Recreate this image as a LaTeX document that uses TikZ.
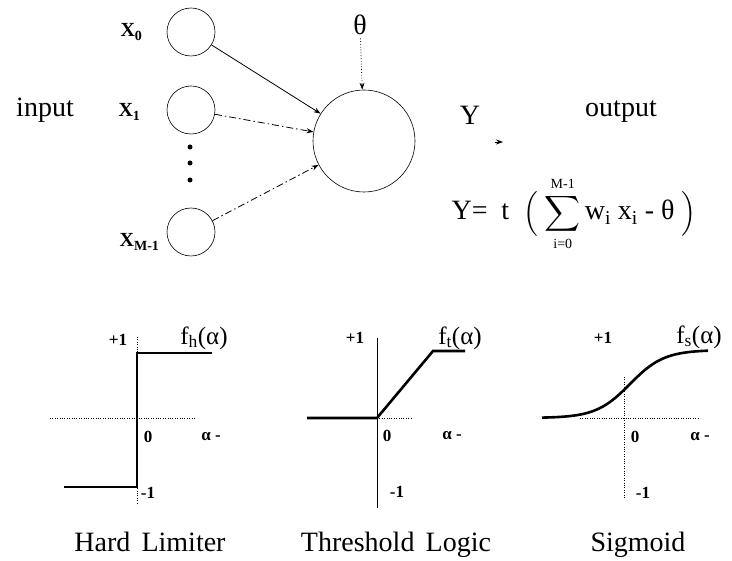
\documentclass[tikz,border=0pt]{standalone}
\usepackage{amsmath}
\usepackage{fontspec}
\setmainfont{Liberation Serif}
\usetikzlibrary{arrows.meta,
                positioning}

\begin{document}
\begin{tikzpicture}[
        x=1pt, y=-1pt,
        unit/.style={circle, minimum size=48pt, inner sep=0pt, draw=black, semithick},
        neuron/.style={circle, minimum size=102pt, inner sep=0pt, draw=black, semithick},
        bigtext/.style={font=\fontsize{28}{30}\selectfont},
        inlabel/.style={font=\fontsize{20}{22}\selectfont\bfseries, anchor=east},
        tick/.style={font=\fontsize{17}{18}\selectfont\bfseries},
        fname/.style={font=\fontsize{25}{27}\selectfont},
        curve/.style={line width=2.6pt},
        axis/.style={dotted, thin},
        wire/.style={-{Stealth[length=7pt,width=5pt]}, thick},
        dashwire/.style={wire, dash pattern=on 7pt off 3pt on 1.5pt off 3pt}
        ]
    \useasboundingbox (0,0) rectangle (732,561);

    \node (x0)  [unit]   at (191,32)  {};
    \node (x1)  [unit]   at (191,110) {};
    \node (xm)  [unit]   at (191,232) {};
    \node (n)   [neuron] at (364,141) {};

    \node (lx0) [inlabel] at (146,32)  {X\textsubscript{0}};
    \node (lx1) [inlabel] at (144,112) {X\textsubscript{1}};
    \node (lxm) [inlabel] at (163,242) {X\textsubscript{M-1}};
    \foreach \y [count=\i] in {147,163,180}
        \node (dot\i) [circle, fill, inner sep=0pt, minimum size=5pt] at (190,\y) {};

    \node (in)    [bigtext] at (45,110)  {input};
    \node (theta) [bigtext] at (360,25)  {θ};
    \node (y)     [bigtext] at (470,115) {Y};
    \node (out)   [bigtext] at (621,112) {output};
    \coordinate (ytail) at (495,142);
    \coordinate (ytip)  at (503,142);

    \draw [wire]         (x0)    -- (n);
    \draw [dashwire]     (x1)    -- (n);
    \draw [dashwire]     (xm)    -- (n);
    \draw [wire, dotted] (theta) -- (n);
    \draw [wire]         (ytail) -- (ytip);

    \node (f) [bigtext] at (574,214)
        {$\text{Y=}\;\;\text{t}\;\;\Bigl(\;\displaystyle\sum\limits_{\scriptscriptstyle\text{i=0}}^{\scriptscriptstyle\text{M-1}}\text{w}_{\text{i}}\;\text{x}_{\text{i}}\text{ - θ}\;\Bigr)$};

    \draw [axis]  (50,418) -- (195,418);
    \draw [axis]  (137,337) -- (137,505);
    \draw [curve] (64,487) -- (137,487) -- (137,353) -- (212,353);
    \node (hp1) [tick]  at (118,340) {+1};
    \node (hf)  [fname] at (204,338) {f\textsubscript{h}(α)};
    \node (h0)  [tick]  at (148,437) {0};
    \node (ha)  [tick]  at (211,437) {α -};
    \node (hm1) [tick]  at (148,493) {-1};
    \node (hl)  [bigtext] at (150,542) {Hard\hspace{0.4em}Limiter};

    \draw [thick] (377,338) -- (377,508);
    \draw [axis]  (377,418) -- (413,418);
    \draw [curve] (307,418) -- (377,418) -- (433,351) -- (465,351);
    \node (tp1) [tick]  at (355,338) {+1};
    \node (tf)  [fname] at (460,338) {f\textsubscript{t}(α)};
    \node (t0)  [tick]  at (387,436) {0};
    \node (ta)  [tick]  at (452,436) {α -};
    \node (tm1) [tick]  at (397,492) {-1};
    \node (tl)  [bigtext] at (396,545) {Threshold\hspace{0.4em}Logic};

    \draw [axis]  (624,377) -- (624,498);
    \draw [axis]  (580,418) -- (700,418);
    \draw [curve] plot [domain=542:708, samples=60] (\x, {418-68/(1+exp(-(\x-630)/17))});
    \node (sp1) [tick]  at (603,338) {+1};
    \node (sf)  [fname] at (699,337) {f\textsubscript{s}(α)};
    \node (s0)  [tick]  at (635,437) {0};
    \node (sa)  [tick]  at (700,437) {α -};
    \node (sm1) [tick]  at (643,493) {-1};
    \node (sl)  [bigtext] at (638,545) {Sigmoid};
\end{tikzpicture}
\end{document}
